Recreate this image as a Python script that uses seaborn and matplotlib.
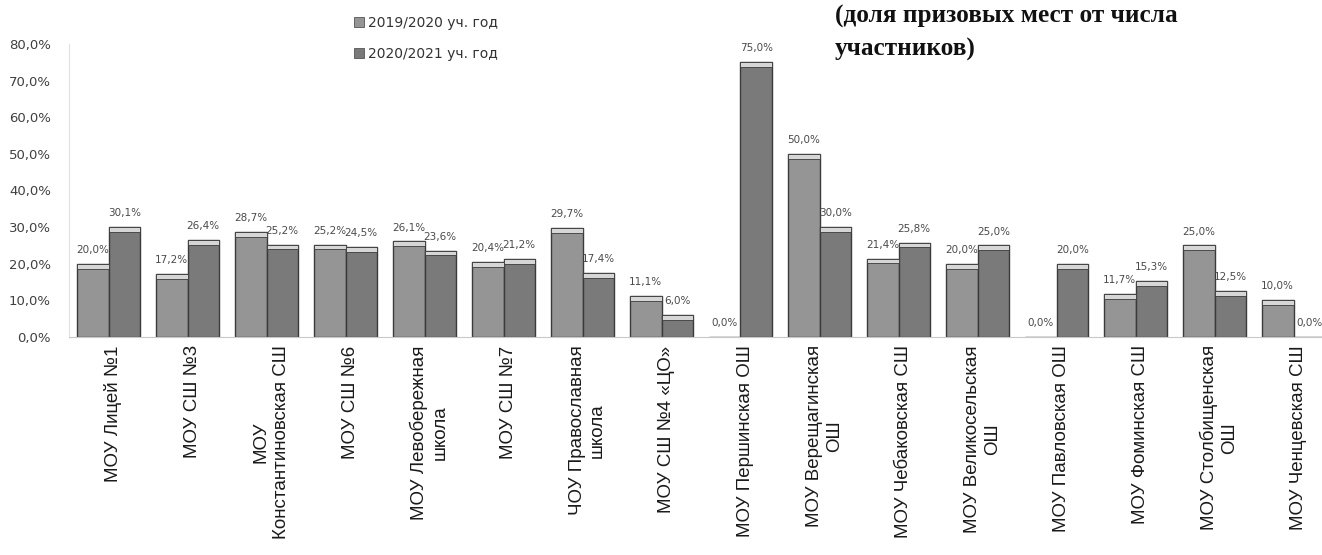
import pandas as pd
import matplotlib
matplotlib.use("Agg")
import matplotlib.pyplot as plt
from matplotlib.patches import Patch, Rectangle
import seaborn as sns

# data
schools = [
    "МОУ Лицей №1",
    "МОУ СШ №3",
    "МОУ\nКонстантиновская СШ",
    "МОУ СШ №6",
    "МОУ Левобережная\nшкола",
    "МОУ СШ №7",
    "ЧОУ Православная\nшкола",
    "МОУ СШ №4 «ЦО»",
    "МОУ Першинская ОШ",
    "МОУ Верещагинская\nОШ",
    "МОУ Чебаковская СШ",
    "МОУ Великосельская\nОШ",
    "МОУ Павловская ОШ",
    "МОУ Фоминская СШ",
    "МОУ Столбищенская\nОШ",
    "МОУ Ченцевская СШ",
]
share_2019 = [20.0, 17.2, 28.7, 25.2, 26.1, 20.4, 29.7, 11.1,
              0.0, 50.0, 21.4, 20.0, 0.0, 11.7, 25.0, 10.0]
share_2020 = [30.1, 26.4, 25.2, 24.5, 23.6, 21.2, 17.4, 6.0,
              75.0, 30.0, 25.8, 25.0, 20.0, 15.3, 12.5, 0.0]
years = ["2019/2020 уч. год", "2020/2021 уч. год"]
y_ticks = [0, 10, 20, 30, 40, 50, 60, 70, 80]
title = "(доля призовых мест от числа\nучастников)"

colors = ["#959595", "#7a7a7a"]

df = pd.DataFrame({
    "school": schools * 2,
    "year": [years[0]] * len(schools) + [years[1]] * len(schools),
    "share": share_2019 + share_2020,
})

sns.set_style("white")
plt.rcParams["font.family"] = ["DejaVu Sans"]

fig = plt.figure(figsize=(13.22, 5.55), dpi=100)
# the category axis runs past the right edge of the picture, as in the scan
ax = fig.add_axes([69 / 1322, 218 / 555, 1264 / 1322, 293 / 555])

sns.barplot(data=df, x="school", y="share", hue="year", order=schools,
            hue_order=years, palette=colors, width=0.8, gap=0,
            edgecolor="#3a3a3a", linewidth=1.0, legend=False, ax=ax)

# light "3D" caps and value labels
for bar in list(ax.patches):
    h = bar.get_height()
    x = bar.get_x() + bar.get_width() / 2
    if h > 0:
        ax.add_patch(Rectangle((bar.get_x(), h - 1.3), bar.get_width(), 1.3,
                               facecolor="#d6d6d6", edgecolor="#3a3a3a",
                               linewidth=0.6, zorder=bar.get_zorder() + 0.1))
    ax.annotate(f"{h:.1f}%".replace(".", ","), (x, h), xytext=(0, 10),
                textcoords="offset points", ha="center", va="center",
                fontsize=7.5, color="#4a4a4a", annotation_clip=False)

ax.set_ylim(0, 80)
ax.set_xlim(-0.5, len(schools) - 0.5)
ax.set_yticks(y_ticks)
ax.set_yticklabels([f"{t:.1f}%".replace(".", ",") for t in y_ticks],
                   fontsize=9.5, color="#404040")
# labels sit a little right of the category centre in the scan
ax.set_xticks([i + 0.06 for i in range(len(schools))])
ax.set_xticklabels(schools, rotation=90, fontsize=13.5,
                   family=["Liberation Sans", "DejaVu Sans"],
                   multialignment="center", linespacing=1.25,
                   color="#1a1a1a")
ax.set_xticks([i + 0.5 for i in range(len(schools) - 1)], minor=True)
ax.tick_params(axis="x", which="major", length=0, pad=6)
ax.tick_params(axis="x", which="minor", length=4, color="#c8c8c8")
ax.tick_params(axis="y", length=0, pad=13)
ax.set_xlabel("")
ax.set_ylabel("")

for side in ["top", "right"]:
    ax.spines[side].set_visible(False)
ax.spines["left"].set_color("#e0e0e0")
ax.spines["bottom"].set_color("#c8c8c8")

handles = [Patch(facecolor=c, edgecolor="#555555", linewidth=0.6) for c in colors]
fig.legend(handles, years, loc="upper left", bbox_to_anchor=(342 / 1322, 1 - 3 / 555),
           frameon=False, fontsize=10, handlelength=0.7, handleheight=0.7,
           handletextpad=0.3, labelspacing=1.25, labelcolor="#333333")

fig.text(835 / 1322, 1 - 5 / 555, title, ha="left", va="top", fontsize=18.2,
         fontweight="bold", family=["Liberation Serif", "DejaVu Serif"],
         color="#111111", linespacing=1.55)

fig.savefig("out.png", dpi=100)
